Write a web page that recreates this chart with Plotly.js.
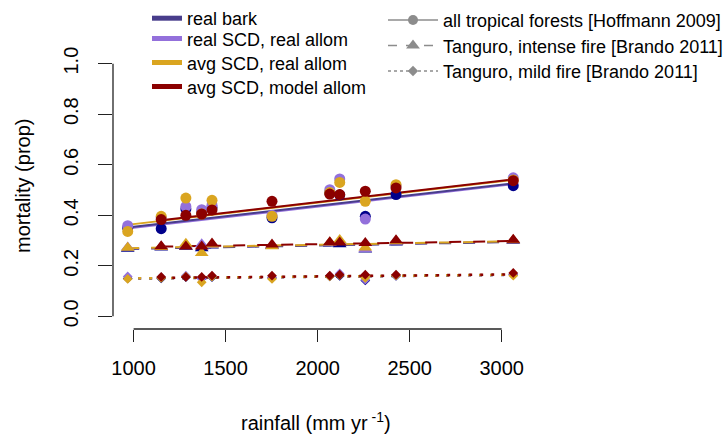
<!DOCTYPE html>
<html>
<head>
<meta charset="utf-8">
<script src="https://cdn.plot.ly/plotly-3.0.1.min.js"></script>
<style>html,body{margin:0;padding:0;background:#fff;}#chart{width:727px;height:437px;}</style>
</head>
<body>
<div id="chart"></div>
<script>
// ---- data ----
const rainfall = [968, 1150, 1284, 1370, 1426, 1752, 2066, 2120, 2259, 2426, 3063];

const seriesNames = ["real bark", "real SCD, real allom", "avg SCD, real allom", "avg SCD, model allom"];
const refNames = ["all tropical forests [Hoffmann 2009]", "Tanguro, intense fire [Brando 2011]", "Tanguro, mild fire [Brando 2011]"];
const xTitle = "rainfall (mm yr<sup> -1</sup>)";
const yTitle = "mortality (prop)";

// all tropical forests [Hoffmann 2009] (circles)
const hoffBark    = [0.350, 0.347, 0.425, 0.410, 0.430, 0.390, 0.490, 0.480, 0.396, 0.482, 0.517];
const hoffRealScd = [0.359, 0.390, 0.435, 0.422, 0.440, 0.400, 0.501, 0.544, 0.385, 0.517, 0.548];
const hoffAvgScd  = [0.336, 0.396, 0.468, 0.405, 0.459, 0.396, 0.490, 0.530, 0.455, 0.521, 0.540];
const hoffModel   = [null, 0.383, 0.400, 0.405, 0.421, 0.455, 0.484, 0.482, 0.495, 0.508, 0.537];

// Tanguro, intense fire (triangles)
const intBark    = [0.268, 0.272, 0.275, 0.270, 0.280, 0.278, 0.288, 0.285, 0.265, 0.292, 0.298];
const intRealScd = [0.272, 0.275, 0.280, 0.285, 0.282, 0.280, 0.290, 0.295, 0.267, 0.295, 0.300];
const intAvgScd  = [0.271, 0.274, 0.287, 0.251, 0.284, 0.277, 0.292, 0.302, 0.272, 0.297, 0.301];
const intModel   = [null, 0.277, 0.276, 0.276, 0.288, 0.284, 0.293, 0.292, 0.290, 0.301, 0.303];

// Tanguro, mild fire (diamonds)
const mildBark    = [0.150, 0.150, 0.155, 0.150, 0.155, 0.152, 0.158, 0.160, 0.142, 0.160, 0.165];
const mildRealScd = [0.158, 0.155, 0.161, 0.150, 0.158, 0.155, 0.160, 0.170, 0.145, 0.162, 0.167];
const mildAvgScd  = [0.148, 0.152, 0.157, 0.135, 0.157, 0.148, 0.158, 0.163, 0.152, 0.162, 0.161];
const mildModel   = [null, 0.156, 0.156, 0.156, 0.161, 0.161, 0.161, 0.165, 0.165, 0.165, 0.172];

// fitted lines (end points)
const fitX      = [965, 3063];
const fitXModel = [1150, 3063];
const fitHoff = [[0.352, 0.526], [0.348, 0.523], [0.362, 0.540], [0.380, 0.542]];
const fitInt  = [[0.267, 0.294], [0.268, 0.296], [0.270, 0.297], [0.276, 0.298]];
const fitMild = [[0.149, 0.164], [0.150, 0.165], [0.150, 0.165], [0.152, 0.166]];

const xTicks = [1000, 1500, 2000, 2500, 3000];
const yTicks = [0, 0.2, 0.4, 0.6, 0.8, 1.0];
const yTickText = ["0.0", "0.2", "0.4", "0.6", "0.8", "1.0"];

// ---- styles ----
const lineColors = ["#483D8B", "#9370DB", "#DAA520", "#8B0000"];
const markColors = ["#00008B", "#9370DB", "#DAA520", "#8B0000"];
const grey = "#8c8c8c";
const FONT = "Liberation Sans, Arial, Helvetica, sans-serif";
const W = 727, H = 437;

const hoff = [hoffBark, hoffRealScd, hoffAvgScd, hoffModel];
const intense = [intBark, intRealScd, intAvgScd, intModel];
const mild = [mildBark, mildRealScd, mildAvgScd, mildModel];

const traces = [];
// fitted lines (purple under navy, gold under red)
const lineOrder = [1, 0, 2, 3];
for (const i of lineOrder) {
  const fx = i === 3 ? fitXModel : fitX;
  traces.push({x: fx, y: fitHoff[i], mode: "lines", line: {color: lineColors[i], width: 2}, showlegend: false, hoverinfo: "skip"});
  traces.push({x: fx, y: fitInt[i], mode: "lines", line: {color: lineColors[i], width: 2, dash: "12px,12px"}, showlegend: false, hoverinfo: "skip"});
  traces.push({x: fx, y: fitMild[i], mode: "lines", line: {color: lineColors[i], width: 2.5, dash: "3px,8px"}, showlegend: false, hoverinfo: "skip"});
}
// points
for (let i = 0; i < 4; i++) {
  traces.push({x: rainfall, y: hoff[i], mode: "markers", marker: {symbol: "circle", size: 11, color: markColors[i]}, showlegend: false});
  traces.push({x: rainfall, y: intense[i], mode: "markers", marker: {symbol: "triangle-up", size: 12, color: markColors[i]}, showlegend: false});
  traces.push({x: rainfall, y: mild[i], mode: "markers", marker: {symbol: "diamond", size: 7.5, color: markColors[i]}, showlegend: false});
}

// legends: one legend per entry, so each row sits where the reference has it
const legendFont = {family: FONT, size: 18, color: "#000"};
const leftRowsY = [15, 39, 63, 87];
const rightRowsY = [20.5, 46, 71.5];
const rowOffset = 18.7;
const layoutLegends = {};
for (let i = 0; i < 4; i++) {
  const id = i === 0 ? "legend" : "legend" + (i + 1);
  traces.push({x: [null], y: [null], mode: "lines", name: seriesNames[i], line: {color: lineColors[i], width: 5}, legend: id, showlegend: true});
  layoutLegends[id] = {xref: "container", yref: "container", x: 147 / W, y: 1 - (leftRowsY[i] - rowOffset) / H,
    xanchor: "left", yanchor: "top", bgcolor: "rgba(0,0,0,0)", borderwidth: 0, font: legendFont,
    itemclick: false, itemdoubleclick: false};
}
const refSym = ["circle", "triangle-up", "diamond"];
const refDash = ["solid", "dash", "dot"];
const refSize = [10, 12, 8];
for (let j = 0; j < 3; j++) {
  const id = "legend" + (j + 5);
  traces.push({x: [null], y: [null], mode: "lines+markers", name: refNames[j],
    line: {color: grey, width: 1.5, dash: refDash[j]}, marker: {symbol: refSym[j], size: refSize[j], color: grey},
    legend: id, showlegend: true});
  layoutLegends[id] = {xref: "container", yref: "container", x: 383 / W, y: 1 - (rightRowsY[j] - rowOffset) / H,
    xanchor: "left", yanchor: "top", bgcolor: "rgba(0,0,0,0)", borderwidth: 0, itemwidth: 50, font: legendFont,
    itemclick: false, itemdoubleclick: false};
}

const layout = Object.assign({
  width: W, height: H,
  margin: {l: 113, r: 197, t: 51, b: 108, pad: 0, autoexpand: false},
  paper_bgcolor: "#fff", plot_bgcolor: "#fff",
  font: {family: FONT, size: 20, color: "#000"},
  showlegend: true,
  xaxis: {
    range: [888, 3154], showgrid: false, zeroline: false, showline: false,
    tickvals: xTicks, ticktext: xTicks.map(String), ticks: "outside", ticklen: 12, tickwidth: 1.3, tickcolor: "#222",
    ticklabelstandoff: 9,
    tickfont: {family: FONT, size: 20, color: "#000"}
  },
  yaxis: {
    range: [-0.05, 1.05], showgrid: false, zeroline: false, showline: false,
    tickvals: yTicks, ticktext: yTickText, ticks: "outside", ticklen: 14, tickwidth: 1.3, tickcolor: "#222",
    tickangle: -90, ticklabelstandoff: 12,
    tickfont: {family: FONT, size: 20, color: "#000"}
  },
  shapes: [
    {type: "line", xref: "x", yref: "paper", x0: xTicks[0], x1: xTicks[xTicks.length - 1], y0: 0, y1: 0, line: {color: "#222", width: 1.3}},
    {type: "line", xref: "paper", yref: "y", x0: 0, x1: 0, y0: yTicks[0], y1: yTicks[yTicks.length - 1], line: {color: "#222", width: 1.3}}
  ],
  annotations: [
    {text: xTitle, xref: "paper", yref: "paper", x: (316 - 113) / 417, y: -(421.5 - 329) / 278,
      xanchor: "center", yanchor: "middle", showarrow: false, font: {family: FONT, size: 20, color: "#000"}},
    {text: yTitle, xref: "paper", yref: "paper", x: -(113 - 23) / 417, y: (329 - 186) / 278, textangle: -90,
      xanchor: "center", yanchor: "middle", showarrow: false, font: {family: FONT, size: 20, color: "#000"}}
  ]
}, layoutLegends);

Plotly.newPlot("chart", traces, layout, {displayModeBar: false, staticPlot: true});
</script>
</body>
</html>
